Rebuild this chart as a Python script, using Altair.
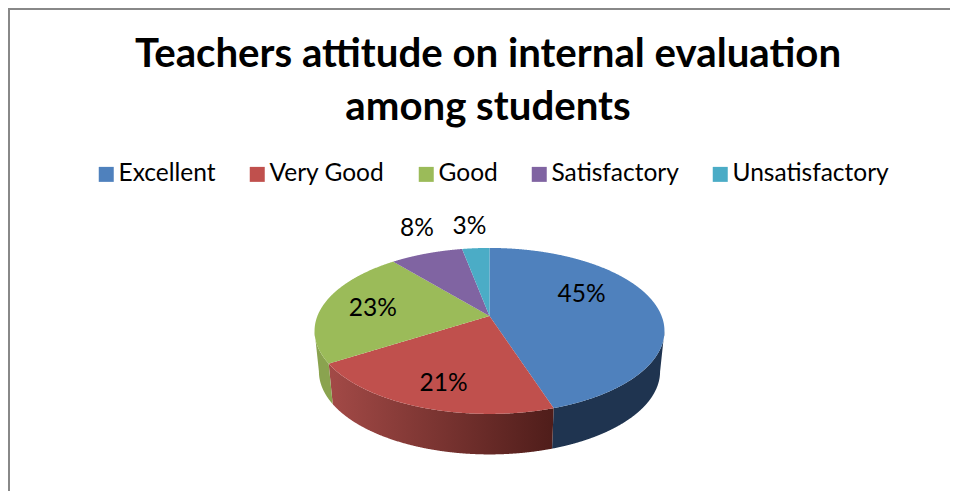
import math
import altair as alt
import pandas as pd

categories = ["Excellent", "Very Good", "Good", "Satisfactory", "Unsatisfactory"]
shares = [45, 21, 23, 8, 3]
labels = ["45%", "21%", "23%", "8%", "3%"]
colors = ["#4F81BD", "#C0504D", "#9BBB59", "#8064A2", "#4BACC6"]
title_lines = ["Teachers attitude on internal evaluation", "among students"]
label_radius = [0.55, 0.6, 0.7, 1.2, 1.2]
label_nudge = [(0, -14), (-7, 18), (0, 2), (1, -14), (-4, -10)]

W, H = 942, 483
CX, CY = 481.5, 323.0
D, RY, PERSP, APEX = 172.1, 83.0, -0.18, 15.0
DEPTH, SHRINK = 40.5, 0.975


def project(theta_deg, r=1.0):
    t = math.radians(theta_deg)
    x, y = r * math.sin(t), -r * math.cos(t)
    w = 1 + PERSP * y
    return CX + D * x / w, CY + (RY * y - APEX) / w


def lower(p):
    return CX + (p[0] - CX) * SHRINK, p[1] + DEPTH


def arc(a, b):
    n = max(4, int(abs(b - a) / 1.0))
    return [project(a + (b - a) * i / n) for i in range(n + 1)]


def polygon_to_band(poly, name):
    """Turn an x-monotone polygon into x / y / y2 rows for an area mark."""
    lo, hi = min(p[0] for p in poly), max(p[0] for p in poly)
    xs = sorted({p[0] for p in poly} | {lo + (hi - lo) * i / 300 for i in range(301)})
    rows = []
    m = len(poly)
    for x in xs:
        ys = []
        for i in range(m):
            (x0, y0), (x1, y1) = poly[i], poly[(i + 1) % m]
            if min(x0, x1) <= x <= max(x0, x1):
                if x0 == x1:
                    ys += [y0, y1]
                else:
                    ys.append(y0 + (y1 - y0) * (x - x0) / (x1 - x0))
        if ys:
            rows.append({"name": name, "x": x, "y": min(ys), "y2": max(ys)})
    return rows


edges = [0.0]
for s in shares:
    edges.append(edges[-1] + s * 3.6)

top_rows = []
for i, name in enumerate(categories):
    top_rows += polygon_to_band([project(0, 0)] + arc(edges[i], edges[i + 1]), name)
top_df = pd.DataFrame(top_rows)


def wall(a, b, name):
    rim = arc(a, b)
    return pd.DataFrame(polygon_to_band(rim + [lower(p) for p in reversed(rim)], name))


x_scale = alt.Scale(domain=[0, W], range=[0, W], nice=False, zero=False)
y_scale = alt.Scale(domain=[0, H], range=[0, H], nice=False, zero=False)
X = alt.X("x:Q", scale=x_scale, axis=None)
Y = alt.Y("y:Q", scale=y_scale, axis=None)


def wall_layer(df, fill):
    return alt.Chart(df).mark_area(color=fill, interpolate="linear").encode(
        x=X, y=Y, y2="y2:Q"
    )


blue_wall = wall_layer(wall(100.4, edges[1], "Excellent"), "#1F3450")
red_wall = wall_layer(
    wall(edges[1], edges[2], "Very Good"),
    alt.LinearGradient(
        gradient="linear",
        x1=1, x2=0, y1=0, y2=0,
        stops=[
            alt.GradientStop(offset=0, color="#4F1D1A"),
            alt.GradientStop(offset=1, color="#A34A47"),
        ],
    ),
)
green_wall = wall_layer(wall(edges[2], 259.6, "Good"), "#8AA34F")

tops = alt.Chart(top_df).mark_area(interpolate="linear").encode(
    x=X,
    y=Y,
    y2="y2:Q",
    color=alt.Color(
        "name:N",
        scale=alt.Scale(domain=categories, range=colors),
        sort=categories,
        legend=alt.Legend(
            title=None,
            orient="none",
            legendX=86,
            legendY=154,
            direction="horizontal",
            columns=5,
            columnPadding=29,
            symbolType="square",
            symbolSize=225,
            symbolStrokeWidth=0,
            symbolOpacity=1,
            labelFont="Lato",
            labelFontSize=24.5,
            labelColor="#000000",
            labelOffset=0,
            labelLimit=300,
        ),
    ),
)

label_rows = []
for i, text in enumerate(labels):
    mid = (edges[i] + edges[i + 1]) / 2
    lx, ly = project(mid, label_radius[i])
    label_rows.append({"x": lx + label_nudge[i][0], "y": ly + label_nudge[i][1], "text": text})
text_layer = alt.Chart(pd.DataFrame(label_rows)).mark_text(
    font="Lato", fontSize=24.5, color="#000000", align="center", baseline="middle"
).encode(x=X, y=Y, text="text:N")

title_df = pd.DataFrame({"text": title_lines, "x": [480, 480], "y": [47, 100]})
title_layer = alt.Chart(title_df).mark_text(
    font="Lato", fontSize=40.2, fontWeight="bold", color="#000000", align="center", baseline="middle"
).encode(x=X, y=Y, text="text:N")

left_border = alt.Chart().mark_rule(color="#888888", strokeWidth=2).encode(
    x=alt.value(1), y=alt.value(0), y2=alt.value(H)
)
top_border = alt.Chart().mark_rule(color="#888888", strokeWidth=2).encode(
    y=alt.value(1), x=alt.value(0), x2=alt.value(W)
)

chart = alt.layer(
    left_border, top_border, blue_wall, red_wall, green_wall, tops, text_layer, title_layer
).resolve_scale(color="shared").properties(
    width=W,
    height=H,
    padding=0,
    autosize=alt.AutoSizeParams(type="none"),
    background="#ffffff",
).configure_view(stroke=None)

chart.save("out.html", embed_options={"renderer": "svg", "actions": False})
